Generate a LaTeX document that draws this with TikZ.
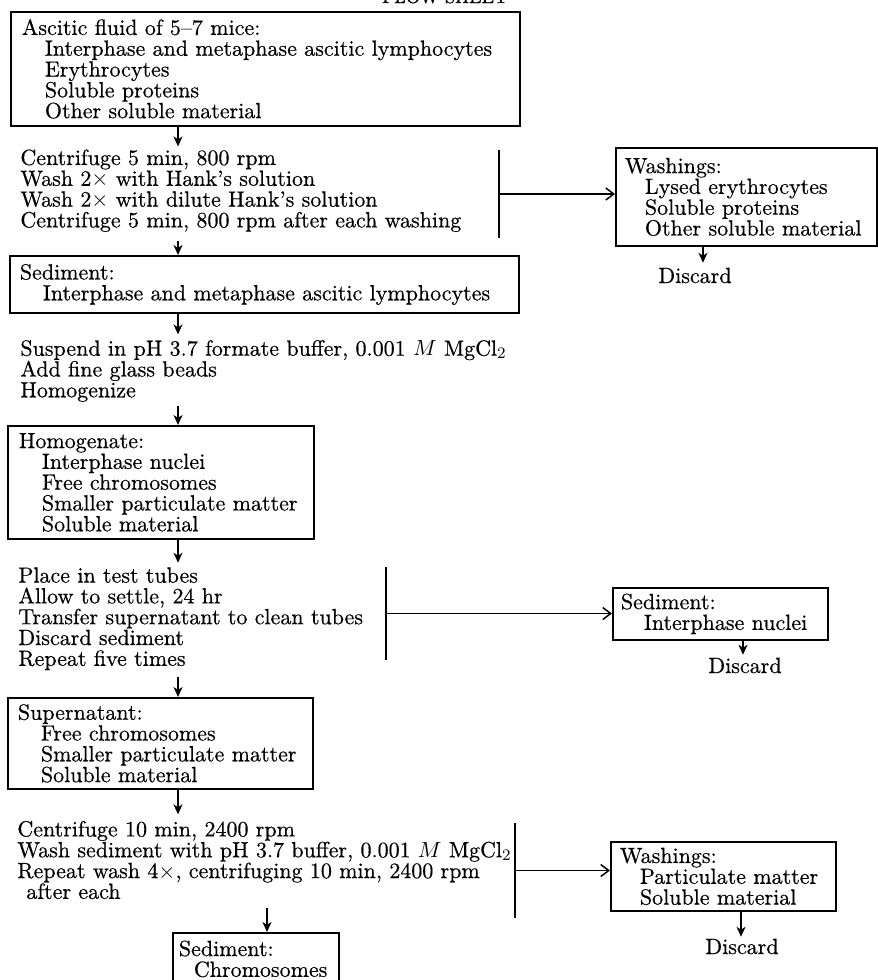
\documentclass[tikz,border=0pt]{standalone}
\usepackage{fontspec}
\setmainfont{Latin Modern Roman}[FakeBold=0.45]
\usetikzlibrary{arrows.meta,calc}
\newcommand\indA{\hspace*{11.5pt}}
\newcommand\indB{\hspace*{10pt}}
\newcommand\indC{\hspace*{7.5pt}}
\begin{document}
\begin{tikzpicture}[x=0.5pt,y=-0.5pt,
  f/.style={font=\fontsize{11}{10.4}\selectfont},
  box/.style={f, draw, line width=0.9pt, anchor=north west, align=left, inner ysep=0pt},
  txt/.style={f, inner sep=0pt, align=left, anchor=west},
  dis/.style={f, inner sep=0pt, anchor=base},
  arr/.style={line width=0.75pt, -{Stealth[length=5pt,width=4.5pt,inset=1.5pt]}},
  harr/.style={line width=0.75pt, -{Straight Barb[length=4pt,width=6pt]}},
  bar/.style={fill, inner sep=0pt, outer sep=0pt, minimum width=1pt}]
\useasboundingbox (0,0) rectangle (878,980);
\clip (0,0) rectangle (878,980);

% column coordinates
\coordinate (cA) at (178,0);
\coordinate (cB) at (267,0);
\coordinate (cD1) at (703,0);
\coordinate (cD2) at (743,0);
\coordinate (cD3) at (741,0);

\node[anchor=base east, inner sep=0pt, font=\fontsize{9}{9}\selectfont] (fs) at (508,3) {FLOW SHEET};

% boxes
\node[box, inner xsep=5.5pt, text width=243.5pt, minimum height=57pt] (b1) at (10,11)
  {Ascitic fluid of 5--7 mice:\\ \indA Interphase and metaphase ascitic lymphocytes\\ \indA Erythrocytes\\ \indA Soluble proteins\\ \indA Other soluble material};

\node[box, inner xsep=4.5pt, text width=121.5pt, minimum height=49pt] (w1) at (615,147)
  {Washings:\\ \indB Lysed erythrocytes\\ \indB Soluble proteins\\ \indB Other soluble material};

\node[box, inner xsep=5pt, text width=244.5pt, minimum height=28.5pt] (s1) at (9,255)
  {Sediment:\\ \indA Interphase and metaphase ascitic lymphocytes};

\node[box, inner xsep=5.5pt, text width=142pt, minimum height=56.5pt] (hg) at (7,425)
  {Homogenate:\\ \indA Interphase nuclei\\ \indA Free chromosomes\\ \indA Smaller particulate matter\\ \indA Soluble material};

\node[box, inner xsep=4pt, text width=99.5pt, minimum height=26pt] (s2) at (612,587)
  {Sediment:\\ \indA Interphase nuclei};

\node[box, inner xsep=5pt, text width=142.5pt, minimum height=45.5pt] (sp) at (7,697)
  {Supernatant:\\ \indA Free chromosomes\\ \indA Smaller particulate matter\\ \indA Soluble material};

\node[box, inner xsep=4.5pt, text width=103.5pt, minimum height=34.5pt] (w3) at (610,841)
  {Washings:\\ \indB Particulate matter\\ \indB Soluble material};

\node[box, inner xsep=3pt, text width=77pt, minimum height=26pt] (s3) at (172,932)
  {Sediment:\\ \indC Chromosomes};

% step texts
\node[txt] (t1) at (20,190.7)
  {Centrifuge 5 min, 800 rpm\\ Wash 2$\times$ with Hank's solution\\ Wash 2$\times$ with dilute Hank's solution\\ Centrifuge 5 min, 800 rpm after each washing};
\node[txt] (t2) at (20,371)
  {Suspend in pH 3.7 formate buffer, 0.001 $M$ MgCl$_2$\\ Add fine glass beads\\ Homogenize};
\node[txt] (t3) at (18,618.7)
  {Place in test tubes\\ Allow to settle, 24 hr\\ Transfer supernatant to clean tubes\\ Discard sediment\\ Repeat five times};
\node[txt] (t4) at (17,860)
  {Centrifuge 10 min, 2400 rpm\\ Wash sediment with pH 3.7 buffer, 0.001 $M$ MgCl$_2$\\ Repeat wash 4$\times$, centrifuging 10 min, 2400 rpm\\ \hspace*{4.5pt}after each};

% discard labels
\node[dis] (d1) at (695,283) {Discard};
\node[dis] (d2) at (745,673) {Discard};
\node[dis] (d3) at (742,954) {Discard};

% bars
\node[bar, minimum height=44pt] (r1) at (499,194) {};
\node[bar, minimum height=46.5pt] (r2) at (386,613.5) {};
\node[bar, minimum height=47.5pt] (r3) at (515,870.5) {};

% main column arrows
\draw[arr, shorten >=1.35pt] (b1.south -| cA) -- (t1.north -| cA);
\draw[arr, shorten <=4.1pt] (t1.south -| cA) -- (s1.north -| cA);
\draw[arr, shorten >=2.7pt] (s1.south -| cA) -- (t2.north -| cA);
\draw[arr, shorten <=1.7pt] (t2.south -| cA) -- (hg.north -| cA);
\draw[arr, shorten >=2.1pt] (hg.south -| cA) -- (t3.north -| cA);
\draw[arr, shorten <=3.4pt] (t3.south -| cA) -- (sp.north -| cA);
\draw[arr, shorten >=3.1pt] (sp.south -| cA) -- (t4.north -| cA);
\draw[arr, shorten <=4.5pt] (t4.south -| cB) -- (s3.north -| cB);

% side branches
\draw[harr] (r1.center) -- (r1.center -| w1.west);
\draw[harr] (r2.center) -- (r2.center -| s2.west);
\draw[harr] (r3.center) -- (r3.center -| w3.west);

% discard arrows
\draw[arr, shorten >=2.3pt] (w1.south -| cD1) -- (d1.north -| cD1);
\draw[arr, shorten >=1.3pt] (s2.south -| cD2) -- (d2.north -| cD2);
\draw[arr, shorten >=0.8pt] (w3.south -| cD3) -- (d3.north -| cD3);
\end{tikzpicture}
\end{document}
